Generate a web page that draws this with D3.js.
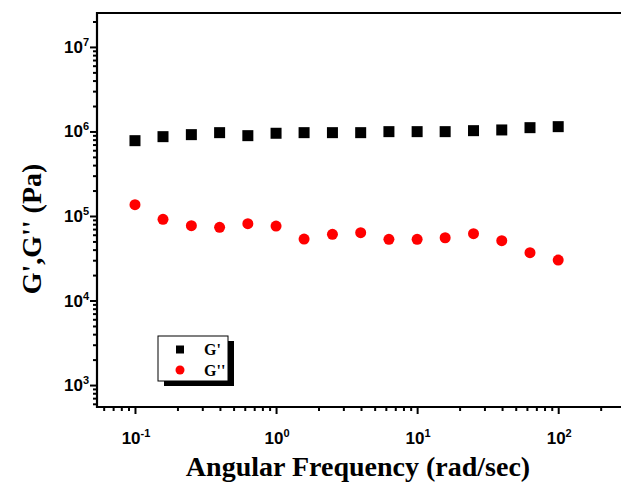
<!DOCTYPE html>
<html>
<head>
<meta charset="utf-8">
<script src="https://cdn.jsdelivr.net/npm/d3@7"></script>
<style>
  html, body { margin: 0; padding: 0; background: #fff; }
  svg { display: block; }
</style>
</head>
<body>
<svg id="chart" width="621" height="485"></svg>
<script>
// Angular frequency (rad/s), five points per decade
const freq = [0.1, 0.158, 0.251, 0.398, 0.631, 1, 1.58, 2.51, 3.98, 6.31, 10, 15.8, 25.1, 39.8, 63.1, 100]
// storage modulus G' (Pa)
const gStorage = [7.78e5, 8.68e5, 9.17e5, 9.68e5, 8.92e5, 9.52e5, 9.68e5, 9.68e5, 9.68e5, 9.95e5, 9.95e5, 9.95e5, 1.022e6, 1.042e6, 1.109e6, 1.14e6]
// loss modulus G'' (Pa)
const gLoss = [1.36e5, 9.14e4, 7.68e4, 7.35e4, 8.11e4, 7.61e4, 5.34e4, 6.07e4, 6.34e4, 5.3e4, 5.3e4, 5.53e4, 6.17e4, 5.1e4, 3.68e4, 3.01e4]

const xMajor = [0.1, 1, 10, 100]
const xMajorExp = ['-1', '0', '1', '2']
const yMajor = [1e3, 1e4, 1e5, 1e6, 1e7]
const yMajorExp = ['3', '4', '5', '6', '7']
const legendLabels = ["G'", "G''"]

const svg = d3.select('#chart')
const plotL = 97, plotT = 13, plotB = 407, plotR = 640

const x = d3.scaleLog().domain([0.0538, 380]).range([plotL, plotR])
const y = d3.scaleLog().domain([550, 2.52e7]).range([plotB, plotT])

// minor ticks 2..9 of each decade that falls inside the domain
function minors(scale) {
  const [a, b] = scale.domain()
  const out = []
  for (let e = Math.floor(Math.log10(a)); e <= Math.ceil(Math.log10(b)); e++) {
    for (let m = 2; m <= 9; m++) {
      const v = m * Math.pow(10, e)
      if (v >= a && v <= b) out.push(v)
    }
  }
  return out
}

svg.append('rect').attr('width', 621).attr('height', 485).attr('fill', '#fff')

const axisStyle = g => {
  g.select('.domain').remove()
  g.selectAll('line').attr('stroke', '#000').attr('stroke-width', 2)
  g.selectAll('text').remove()
}

// x axis: minor and major ticks, pointing out
svg.append('g').attr('transform', `translate(0,${plotB})`)
  .call(d3.axisBottom(x).tickValues(minors(x)).tickSize(4).tickFormat(''))
  .call(axisStyle)
svg.append('g').attr('transform', `translate(0,${plotB})`)
  .call(d3.axisBottom(x).tickValues(xMajor).tickSize(7).tickFormat(''))
  .call(axisStyle)

// y axis
svg.append('g').attr('transform', `translate(${plotL},0)`)
  .call(d3.axisLeft(y).tickValues(minors(y)).tickSize(4).tickFormat(''))
  .call(axisStyle)
svg.append('g').attr('transform', `translate(${plotL},0)`)
  .call(d3.axisLeft(y).tickValues(yMajor).tickSize(7).tickFormat(''))
  .call(axisStyle)

// frame (right side runs off the picture)
svg.append('path')
  .attr('d', `M${plotR},${plotT}H${plotL}V${plotB}H${plotR}`)
  .attr('fill', 'none').attr('stroke', '#000').attr('stroke-width', 2.2)

const tickFont = 'Liberation Sans, Arial, sans-serif'

// x tick labels, 10 with superscript exponent
xMajor.forEach((v, i) => {
  const t = svg.append('text')
    .attr('x', x(v) + 1).attr('y', 444)
    .attr('text-anchor', 'middle')
    .attr('font-family', tickFont).attr('font-weight', 'bold').attr('font-size', 17)
  t.append('tspan').text('10')
  t.append('tspan').attr('dy', -7).attr('font-size', 11).text(xMajorExp[i])
})

yMajor.forEach((v, i) => {
  const t = svg.append('text')
    .attr('x', 89).attr('y', y(v) + 6)
    .attr('text-anchor', 'end')
    .attr('font-family', tickFont).attr('font-weight', 'bold').attr('font-size', 17)
  t.append('tspan').text('10')
  t.append('tspan').attr('dy', -7).attr('font-size', 11).text(yMajorExp[i])
})

const titleFont = 'Liberation Serif, Times New Roman, serif'

svg.append('text')
  .attr('x', 358).attr('y', 476)
  .attr('text-anchor', 'middle')
  .attr('font-family', titleFont).attr('font-weight', 'bold').attr('font-size', 28)
  .text('Angular Frequency (rad/sec)')

svg.append('text')
  .attr('transform', 'translate(41,229) rotate(-90)')
  .attr('text-anchor', 'middle')
  .attr('font-family', titleFont).attr('font-weight', 'bold').attr('font-size', 28)
  .text("G',G'' (Pa)")

// data
const sq = 11
svg.append('g').selectAll('rect')
  .data(freq.map((f, i) => [f, gStorage[i]]))
  .join('rect')
  .attr('x', d => x(d[0]) - sq / 2)
  .attr('y', d => y(d[1]) - sq / 2)
  .attr('width', sq).attr('height', sq)
  .attr('fill', '#000')

svg.append('g').selectAll('circle')
  .data(freq.map((f, i) => [f, gLoss[i]]))
  .join('circle')
  .attr('cx', d => x(d[0]))
  .attr('cy', d => y(d[1]))
  .attr('r', 5.5)
  .attr('fill', '#ff0000')

// legend with drop shadow
const lg = svg.append('g').attr('transform', 'translate(158,336)')
lg.append('rect').attr('x', 6).attr('y', 5).attr('width', 70).attr('height', 45).attr('fill', '#000')
lg.append('rect').attr('x', 0).attr('y', 0).attr('width', 70).attr('height', 45)
  .attr('fill', '#fff').attr('stroke', '#000').attr('stroke-width', 1)
lg.append('rect').attr('x', 18).attr('y', 9.5).attr('width', 8).attr('height', 8).attr('fill', '#000')
lg.append('circle').attr('cx', 22).attr('cy', 34).attr('r', 4.5).attr('fill', '#ff0000')
legendLabels.forEach((l, i) => {
  lg.append('text')
    .attr('x', 46).attr('y', 19 + i * 21)
    .attr('font-family', titleFont).attr('font-weight', 'bold').attr('font-size', 16)
    .text(l)
})
</script>
</body>
</html>
